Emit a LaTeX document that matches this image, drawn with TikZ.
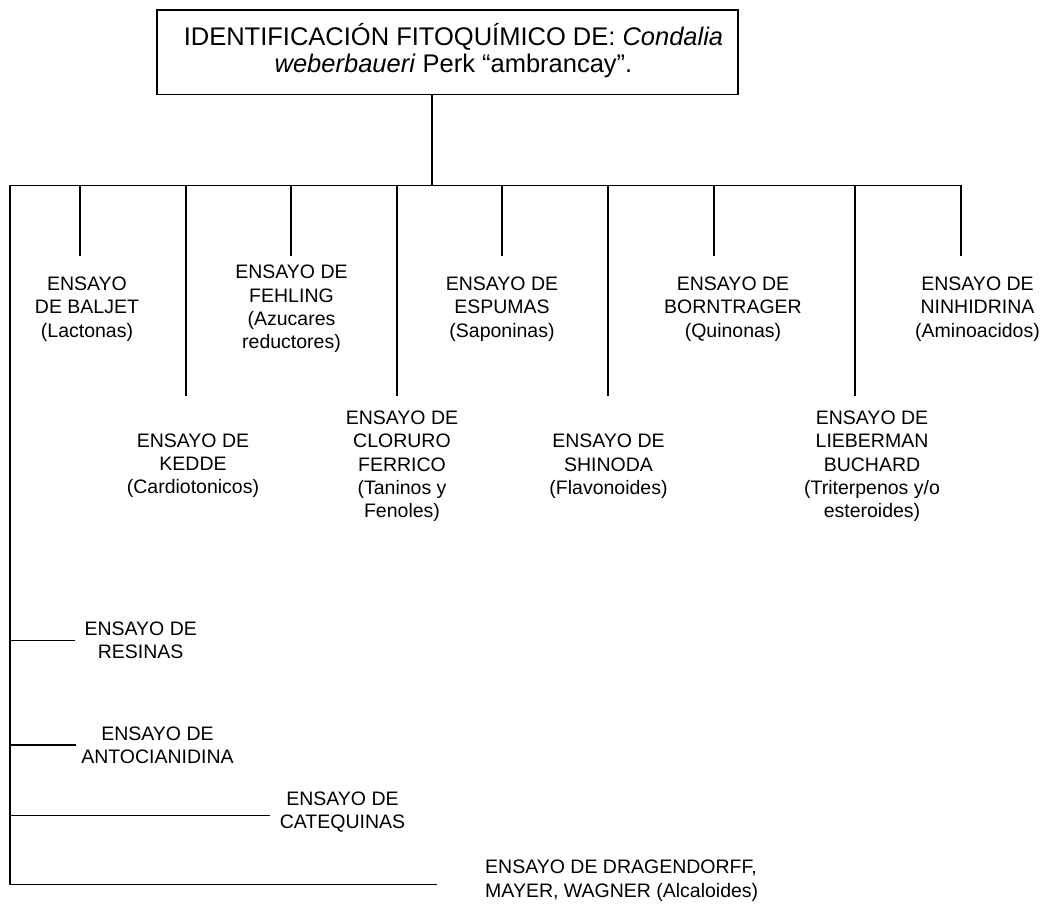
\documentclass[tikz,border=0pt]{standalone}
\usepackage{fontspec}
\setmainfont{Liberation Sans}
\begin{document}
\begin{tikzpicture}[x=1pt,y=-1pt,
  wire/.style={line width=1.4pt},
  lbl/.style={anchor=north, inner sep=0pt, align=center, font=\fontsize{19.5}{23.3}\selectfont},
  lbll/.style={lbl, anchor=north west, align=left},
  titlebox/.style={draw, line width=1.7pt, minimum width=581pt, minimum height=84.5pt, inner sep=0pt},
  titletext/.style={inner sep=0pt, align=center, font=\fontsize{25.5}{27.6}\selectfont}]
\useasboundingbox (0,0) rectangle (1045,903);

% heading box and its text
\node[titlebox] (title) at (447.3,52.2) {};
\node[titletext] (titletext) at (453.5,50.5)
  {IDENTIFICACIÓN FITOQUÍMICO DE: \textit{Condalia}\\\textit{weberbaueri} Perk “ambrancay”.};

% main bus and left spine
\coordinate (trunk) at (432,185.5);
\coordinate (busL) at (10,185.5);
\coordinate (busR) at (961,185.5);
\coordinate (spineB) at (10,884.7);
\coordinate (dragen-end) at (437,884.7);
\coordinate (ninhidrina-end) at (961,256);
\draw[wire] (title.south -| trunk) -- (trunk);
\draw[wire] (ninhidrina-end) -- (busR) -- (busL) -- (spineB) -- (dragen-end);

% drops from the bus
\foreach \n/\x/\y in {baljet/80/256, kedde/186/396, fehling/291/256, cloruro/397/396,
                      espumas/502/256, shinoda/608/396, borntrager/714/256, lieberman/855/396}{
  \coordinate (\n-top) at (\x,185.5);
  \coordinate (\n-end) at (\x,\y);
  \draw[wire] (\n-top) -- (\n-end);
}

% branches from the spine
\foreach \n/\y/\x in {resinas/640.7/75, antocian/745/76, catequinas/815.7/270}{
  \coordinate (\n-j) at (10,\y);
  \coordinate (\n-end) at (\x,\y);
  \draw[wire] (\n-j) -- (\n-end);
}

% test labels
\node[lbl] (baljet) at (87,276.7) {ENSAYO\\DE BALJET\\(Lactonas)};
\node[lbl] (fehling) at (291.5,265) {ENSAYO DE\\FEHLING\\(Azucares\\reductores)};
\node[lbl] (espumas) at (502,276.7) {ENSAYO DE\\ESPUMAS\\(Saponinas)};
\node[lbl] (borntrager) at (733,276.7) {ENSAYO DE\\BORNTRAGER\\(Quinonas)};
\node[lbl] (ninhidrina) at (977.5,276.7) {ENSAYO DE\\NINHIDRINA\\(Aminoacidos)};
\node[lbl] (kedde) at (193,433.5) {ENSAYO DE\\KEDDE\\(Cardiotonicos)};
\node[lbl] (cloruro) at (402,410.7) {ENSAYO DE\\CLORURO\\FERRICO\\(Taninos y\\Fenoles)};
\node[lbl] (shinoda) at (608.5,434) {ENSAYO DE\\SHINODA\\(Flavonoides)};
\node[lbl] (lieberman) at (872,410.7) {ENSAYO DE\\LIEBERMAN\\BUCHARD\\(Triterpenos y/o\\esteroides)};
\node[lbl] (resinas) at (140.7,621.7) {ENSAYO DE\\RESINAS};
\node[lbl] (antocian) at (157.5,726.7) {ENSAYO DE\\ANTOCIANIDINA};
\node[lbl] (catequinas) at (342.5,791.7) {ENSAYO DE\\CATEQUINAS};
\node[lbll] (dragen) at (485,860) {ENSAYO DE DRAGENDORFF,\\MAYER, WAGNER (Alcaloides)};
\end{tikzpicture}
\end{document}
